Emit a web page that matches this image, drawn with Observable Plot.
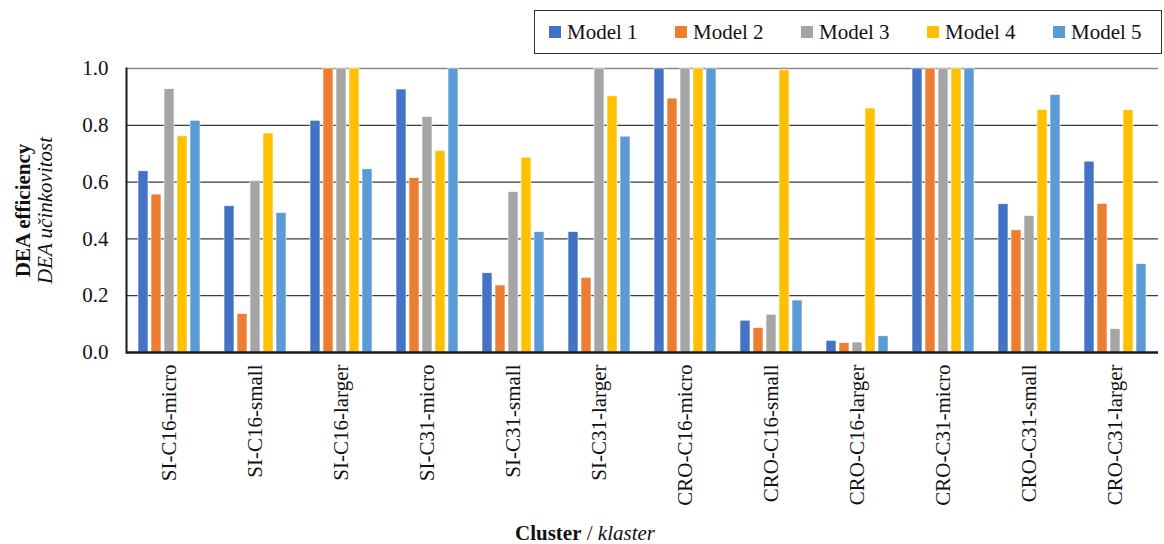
<!DOCTYPE html>
<html>
<head>
<meta charset="utf-8">
<script src="https://cdn.jsdelivr.net/npm/d3@7"></script>
<script src="https://cdn.jsdelivr.net/npm/@observablehq/plot@0.6"></script>
<style>
  body { margin: 0; background: #fff; font-family: "Liberation Serif", "Times New Roman", serif; overflow: hidden; }
  #legend { position: relative; width: 1164px; height: 50px; }
  #legend .box { position: absolute; left: 534px; top: 10px; width: 626px; height: 42px; border: 1.5px solid #333; box-sizing: content-box; z-index: 2; }
  #legend .item { position: absolute; top: 0; height: 42px; display: flex; align-items: center; font-size: 21px; color: #111; }
  #legend .sw { width: 12px; height: 12px; margin-right: 6px; }
  #xtitle { width: 1164px; height: 22px; line-height: 22px; font-size: 21px; color: #111; position: relative; }
  #xtitle span.t { position: absolute; left: 515px; }
  #chart svg { overflow: visible; }
</style>
</head>
<body>
<div id="legend"><div class="box"></div></div>
<div id="chart"></div>
<div id="xtitle"><span class="t"><b>Cluster</b> / <i>klaster</i></span></div>
<script>
const clusters = ["SI-C16-micro", "SI-C16-small", "SI-C16-larger", "SI-C31-micro", "SI-C31-small", "SI-C31-larger",
  "CRO-C16-micro", "CRO-C16-small", "CRO-C16-larger", "CRO-C31-micro", "CRO-C31-small", "CRO-C31-larger"];
const models = ["Model 1", "Model 2", "Model 3", "Model 4", "Model 5"];
const colors = ["#4472C4", "#ED7D31", "#A5A5A5", "#FFC000", "#5B9BD5"];
const model1 = [0.638, 0.515, 0.816, 0.926, 0.279, 0.424, 1.0, 0.112, 0.041, 1.0, 0.522, 0.672];
const model2 = [0.556, 0.135, 1.0, 0.614, 0.236, 0.263, 0.894, 0.086, 0.033, 1.0, 0.430, 0.523];
const model3 = [0.927, 0.604, 1.0, 0.829, 0.565, 1.0, 1.0, 0.133, 0.035, 1.0, 0.481, 0.082];
const model4 = [0.761, 0.771, 1.0, 0.710, 0.686, 0.902, 1.0, 0.994, 0.859, 1.0, 0.854, 0.853];
const model5 = [0.816, 0.491, 0.645, 1.0, 0.424, 0.760, 1.0, 0.183, 0.057, 1.0, 0.907, 0.311];
const yTicks = [0, 0.2, 0.4, 0.6, 0.8, 1.0];

const series = [model1, model2, model3, model4, model5];
const data = [];
clusters.forEach((c, i) => models.forEach((m, j) => data.push({cluster: c, model: m, value: series[j][i]})));

// legend
const legendBox = document.querySelector("#legend .box");
models.forEach((m, j) => {
  const it = document.createElement("div");
  it.className = "item";
  it.style.left = (14 + j * 126) + "px";
  it.innerHTML = `<span class="sw" style="background:${colors[j]}"></span>${m}`;
  legendBox.appendChild(it);
});

const chart = Plot.plot({
  width: 1164,
  height: 472,
  marginTop: 18,
  marginBottom: 170,
  marginLeft: 121,
  marginRight: 2,
  style: {fontFamily: "Liberation Serif, Times New Roman, serif", fontSize: "21px", color: "#111", background: "transparent"},
  fx: {domain: clusters, padding: 0, label: null},
  x: {domain: models, paddingInner: 0.2, paddingOuter: 0.86, axis: null},
  y: {domain: [0, 1], label: null},
  color: {domain: models, range: colors},
  marks: [
    Plot.ruleY(yTicks.filter(d => d > 0 && d < 1), {stroke: "#3a3a3a", strokeWidth: 1.2}),
    Plot.ruleY([1], {stroke: "#8a8a8a", strokeWidth: 1.6}),
    Plot.barY(data, {fx: "cluster", x: "model", y: "value", fill: "model", stroke: "white", strokeWidth: 0.6}),
    Plot.ruleY([0], {stroke: "#1a1a1a", strokeWidth: 2.5}),
    Plot.frame({anchor: "left", facetAnchor: "left", stroke: "#1a1a1a", strokeWidth: 2}),
    Plot.axisY({ticks: yTicks, tickFormat: d3.format(".1f"), tickSize: 0, tickPadding: 18, label: null, fontSize: 21}),
    Plot.axisFx({anchor: "bottom", tickRotate: -90, tickSize: 0, tickPadding: 12, label: null, fontSize: 21}),
    Plot.text(["DEA efficiency"], {text: d => d, frameAnchor: "left", textAnchor: "middle", dx: -103, rotate: -90, fontWeight: "bold", fontSize: 21, facetAnchor: "left", fill: "#111"}),
    Plot.text(["DEA učinkovitost"], {text: d => d, frameAnchor: "left", textAnchor: "middle", dx: -81, rotate: -90, fontStyle: "italic", fontSize: 21, facetAnchor: "left", fill: "#111"})
  ]
});
document.getElementById("chart").appendChild(chart);
</script>
</body>
</html>
